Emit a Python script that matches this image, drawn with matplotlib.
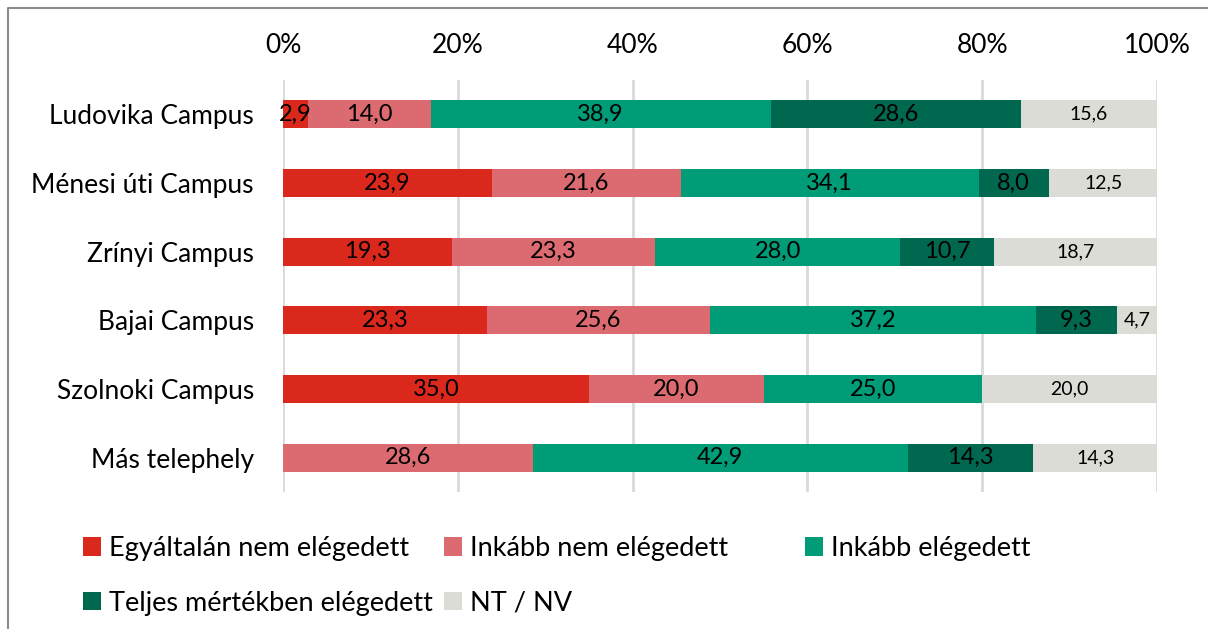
import matplotlib.pyplot as plt
from matplotlib.lines import Line2D
import numpy as np

plt.rcParams['font.family'] = ['Lato', 'DejaVu Sans']

campuses = ['Ludovika Campus', 'Ménesi úti Campus', 'Zrínyi Campus',
            'Bajai Campus', 'Szolnoki Campus', 'Más telephely']
categories = ['Egyáltalán nem elégedett', 'Inkább nem elégedett', 'Inkább elégedett',
              'Teljes mértékben elégedett', 'NT / NV']
egyaltalan = [2.9, 23.9, 19.3, 23.3, 35.0, 0.0]
inkabb_nem = [14.0, 21.6, 23.3, 25.6, 20.0, 28.6]
inkabb_eleg = [38.9, 34.1, 28.0, 37.2, 25.0, 42.9]
teljes = [28.6, 8.0, 10.7, 9.3, 0.0, 14.3]
nt_nv = [15.6, 12.5, 18.7, 4.7, 20.0, 14.3]
xticks = [0, 20, 40, 60, 80, 100]

colors = ['#DA291C', '#DB6B70', '#009B77', '#00684F', '#DCDCD7']
series = [egyaltalan, inkabb_nem, inkabb_eleg, teljes, nt_nv]

fig = plt.figure(figsize=(12.08, 6.29), dpi=100)
ax = fig.add_axes([283 / 1208, 1 - 492 / 629, 874 / 1208, 412 / 629])

y = np.arange(len(campuses))
left = np.zeros(len(campuses))
handles = []
for i, (vals, col) in enumerate(zip(series, colors)):
    vals = np.array(vals)
    bars = ax.barh(y, vals, left=left, height=0.41, color=col, label=categories[i], zorder=3)
    handles.append(bars)
    for yy, l, v in zip(y, left, vals):
        if v > 0:
            ax.text(l + v / 2, yy, f"{v:.1f}".replace('.', ','), ha='center', va='center',
                    fontsize=14 if i == 4 else 17, color='black', zorder=4)
    left += vals

ax.set_xlim(0, 100)
ax.set_ylim(len(campuses) - 0.5, -0.5)
ax.set_xticks(xticks)
ax.set_xticklabels([f"{t}%" for t in xticks], fontsize=19)
ax.xaxis.tick_top()
ax.tick_params(axis='x', length=0, pad=16)
ax.set_yticks(y)
ax.set_yticklabels(campuses, fontsize=19)
ax.tick_params(axis='y', length=0, pad=21)
ax.grid(axis='x', color='#D9D9D9', linewidth=2, zorder=0)
for s in ax.spines.values():
    s.set_visible(False)

# legend placed in three columns like the reference
cols = [[0, 3], [1, 4], [2]]
xpos = [83, 444, 805]
for c, xp in zip(cols, xpos):
    fig.legend([handles[k] for k in c], [categories[k] for k in c],
               loc='upper left', bbox_to_anchor=(xp / 1208, 1 - 536 / 629),
               frameon=False, fontsize=19.5, handlelength=0.65, handleheight=0.65,
               handletextpad=0.3, labelspacing=1.1, borderaxespad=0, borderpad=0)

# outer frame (only left and top edges are visible)
fig.add_artist(Line2D([8 / 1208, 8 / 1208, 1.01], [-0.01, 1 - 8 / 629, 1 - 8 / 629],
                      transform=fig.transFigure, color='#8C8C8C', linewidth=1.5))

fig.savefig('out.png', dpi=100)
